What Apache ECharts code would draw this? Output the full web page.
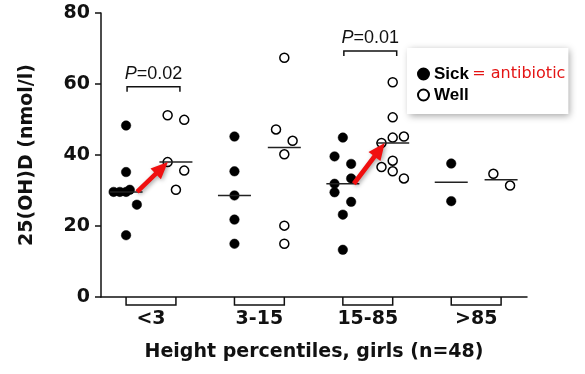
<!DOCTYPE html>
<html>
<head>
<meta charset="utf-8">
<script src="https://cdn.jsdelivr.net/npm/echarts@6/dist/echarts.min.js"></script>
<style>
html,body{margin:0;padding:0;background:#fff;}
#chart{width:585px;height:374px;}
</style>
</head>
<body>
<div id="chart"></div>
<script>
// ---- data ----
const categories = ['<3', '3-15', '15-85', '>85'];
const yTicks = [0, 20, 40, 60, 80];
const sickValues = [
  [48.3, 35.2, 29.6, 29.6, 29.6, 30.2, 26.0, 17.4],
  [45.2, 35.4, 28.6, 21.8, 15.0],
  [44.9, 39.6, 37.5, 33.4, 31.9, 29.5, 26.8, 23.2, 13.3],
  [37.6, 27.0]
];
const sickJitter = [
  [0, 0, -1.5, -0.75, 0, 0.45, 1.3, 0],
  [0, 0, 0, 0, 0],
  [0, -1, 1, 1, -1, -1, 1, 0, 0],
  [0, 0]
];
const wellValues = [
  [51.2, 49.9, 38.0, 35.6, 30.2],
  [67.4, 47.2, 44.0, 40.2, 20.1, 15.0],
  [60.5, 50.6, 45.2, 44.9, 43.4, 38.4, 36.6, 35.4, 33.4],
  [34.7, 31.4]
];
const wellJitter = [
  [-1, 1, -1, 1, 0],
  [0, -1, 1, 0, 0, 0],
  [0, 0, 1.35, 0, -1.35, 0, -1.35, 0, 1.35],
  [-0.93, 1.08]
];
const pGroups = [0, 2];
const pTexts = ['0.02', '0.01'];
const pBracketLevels = [59.2, 69.3];
const arrowGroups = [0, 2];

// ---- helpers ----
const X_OFF = 0.23, SLOT = 0.0766;
function median(a) {
  const s = a.slice().sort((x, y) => x - y);
  const m = Math.floor(s.length / 2);
  return s.length % 2 ? s[m] : (s[m - 1] + s[m]) / 2;
}
function pts(values, jit, side) {
  const out = [];
  values.forEach((g, i) => g.forEach((v, j) => out.push([i + 1 + side * X_OFF + jit[i][j] * SLOT, v])));
  return out;
}
const sickPts = pts(sickValues, sickJitter, -1);
const wellPts = pts(wellValues, wellJitter, 1);
const medianData = [];
sickValues.forEach((g, i) => medianData.push([i + 1 - X_OFF, median(g)]));
wellValues.forEach((g, i) => medianData.push([i + 1 + X_OFF, median(g)]));
const arrowData = arrowGroups.map(g => [g + 1, median(sickValues[g]), median(wellValues[g])]);
const pData = pGroups.map((g, k) => [g + 1, pBracketLevels[k], k]);

const BOLD = 'DejaVu Sans';
const chart = echarts.init(document.getElementById('chart'), null, {renderer: 'canvas'});
chart.setOption({
  animation: false,
  backgroundColor: '#fff',
  grid: {left: 101, right: 58, top: 13, bottom: 77},
  xAxis: {
    type: 'value', min: 0.5387, max: 4.469,
    axisLine: {show: true, lineStyle: {color: '#111', width: 1.5}},
    axisTick: {show: false},
    splitLine: {show: false},
    axisLabel: {
      customValues: [1, 2, 3, 4],
      formatter: v => categories[Math.round(v) - 1],
      fontFamily: BOLD, fontWeight: 'bold', fontSize: 19, color: '#111', margin: 13
    },
    name: 'Height percentiles, girls (n=48)',
    nameLocation: 'middle', nameGap: 46,
    nameTextStyle: {fontFamily: BOLD, fontWeight: 'bold', fontSize: 19, color: '#111'}
  },
  yAxis: {
    type: 'value', min: 0, max: 80, interval: 20,
    axisLine: {show: true, lineStyle: {color: '#111', width: 1.5}},
    axisTick: {show: true, length: 6, lineStyle: {color: '#111', width: 1.5}},
    splitLine: {show: false},
    axisLabel: {
      customValues: yTicks,
      fontFamily: BOLD, fontWeight: 'bold', fontSize: 19, color: '#111', margin: 11
    },
    name: '25(OH)D (nmol/l)',
    nameLocation: 'middle', nameRotate: 90, nameGap: 64,
    nameTextStyle: {fontFamily: BOLD, fontWeight: 'bold', fontSize: 19, color: '#111'}
  },
  legend: {
    show: true, orient: 'vertical', left: 407, top: 48,
    padding: [17, 3, 10, 10], itemGap: 3,
    backgroundColor: '#fff',
    shadowBlur: 7, shadowColor: 'rgba(0,0,0,0.35)', shadowOffsetX: 2, shadowOffsetY: 2,
    icon: 'circle', itemWidth: 11, itemHeight: 11,
    data: ['Sick', 'Well'],
    formatter: name => name === 'Sick' ? '{b|Sick} {r|= antibiotic}' : '{b|Well}',
    textStyle: {
      lineHeight: 18,
      rich: {
        b: {fontFamily: 'Liberation Sans', fontWeight: 'bold', fontSize: 17, color: '#000', lineHeight: 18},
        r: {fontFamily: 'DejaVu Sans', fontSize: 16, color: '#e41414', lineHeight: 18}
      }
    }
  },
  series: [
    {
      type: 'custom', name: 'brackets', silent: true, clip: false, z: 1,
      data: categories.map((c, i) => [i + 1]),
      renderItem: (params, api) => {
        const a = api.coord([api.value(0) - X_OFF, 0]);
        const b = api.coord([api.value(0) + X_OFF, 0]);
        return {type: 'polyline', shape: {points: [[a[0], a[1]], [a[0], a[1] + 8], [b[0], b[1] + 8], [b[0], b[1]]]},
          style: {stroke: '#111', lineWidth: 1.5, fill: null}};
      }
    },
    {
      type: 'scatter', name: 'Sick', data: sickPts, symbol: 'circle', symbolSize: 9.5, z: 3,
      itemStyle: {color: '#000', borderColor: '#000', borderWidth: 0.5, opacity: 1}
    },
    {
      type: 'scatter', name: 'Well', data: wellPts, symbol: 'circle', symbolSize: 9, z: 3,
      itemStyle: {color: '#fff', borderColor: '#000', borderWidth: 1.5, opacity: 1}
    },
    {
      type: 'custom', name: 'medians', silent: true, clip: false, z: 4,
      data: medianData,
      renderItem: (params, api) => {
        const p = api.coord([api.value(0), api.value(1)]);
        return {type: 'line', shape: {x1: p[0] - 16.5, y1: p[1], x2: p[0] + 16.5, y2: p[1]},
          style: {stroke: '#222', lineWidth: 1.5}};
      }
    },
    {
      type: 'custom', name: 'arrows', silent: true, clip: false, z: 5,
      data: arrowData,
      renderItem: (params, api) => {
        const g = api.value(0);
        const t0 = api.coord([g - X_OFF, api.value(1)]);
        const h0 = api.coord([g + X_OFF, api.value(2)]);
        const tail = [t0[0] + 11, t0[1]];
        const tip = [h0[0] - 8, h0[1]];
        const dx = tip[0] - tail[0], dy = tip[1] - tail[1];
        const L = Math.sqrt(dx * dx + dy * dy);
        const ux = dx / L, uy = dy / L, nx = -uy, ny = ux;
        const hl = 17, hw = 7.5, sw = 2.3;
        const bx = tip[0] - ux * hl, by = tip[1] - uy * hl;
        const pts = [
          [tail[0] + nx * sw, tail[1] + ny * sw],
          [bx + nx * sw, by + ny * sw],
          [bx + nx * hw, by + ny * hw],
          tip,
          [bx - nx * hw, by - ny * hw],
          [bx - nx * sw, by - ny * sw],
          [tail[0] - nx * sw, tail[1] - ny * sw]
        ];
        return {type: 'polygon', shape: {points: pts},
          style: {fill: '#f01010', shadowBlur: 4, shadowColor: 'rgba(0,0,0,0.35)', shadowOffsetX: 1.5, shadowOffsetY: 1.5}};
      }
    },
    {
      type: 'custom', name: 'pvalues', silent: true, clip: false, z: 5,
      data: pData,
      renderItem: (params, api) => {
        const g = api.value(0);
        const a = api.coord([g - X_OFF, api.value(1)]);
        const b = api.coord([g + X_OFF, api.value(1)]);
        const x1 = a[0] + 1, x2 = b[0] + 4, y = a[1];
        return {type: 'group', children: [
          {type: 'polyline', shape: {points: [[x1, y + 5], [x1, y], [x2, y], [x2, y + 5]]},
            style: {stroke: '#111', lineWidth: 1.5, fill: null}},
          {type: 'text', x: (x1 + x2) / 2, y: y - 13,
            style: {text: '{i|P}=' + pTexts[api.value(2)], align: 'center', verticalAlign: 'middle',
              fontFamily: 'Liberation Sans', fontSize: 18, fill: '#111',
              rich: {i: {fontFamily: 'Liberation Sans', fontStyle: 'italic', fontSize: 18, fill: '#111'}}}}
        ]};
      }
    }
  ]
});
</script>
</body>
</html>
